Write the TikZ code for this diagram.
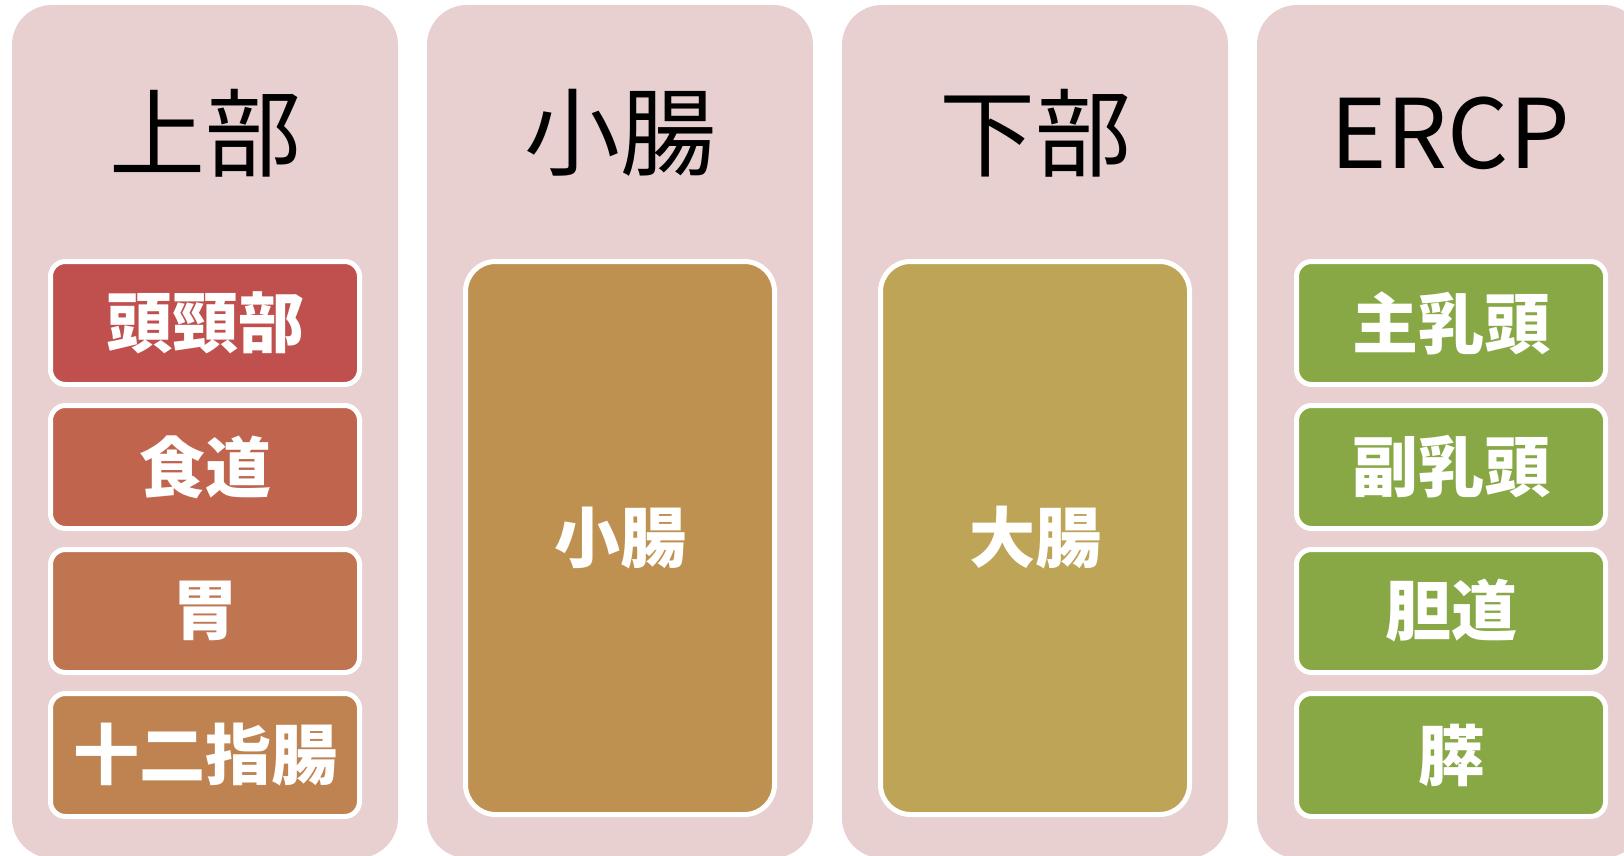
\documentclass[tikz,border=0pt]{standalone}
\usepackage{fontspec}
\newfontfamily\cjk{Noto Sans CJK JP}
\definecolor{colbg}{RGB}{232,208,209}
\definecolor{upc1}{RGB}{192,80,77}
\definecolor{upc2}{RGB}{192,100,78}
\definecolor{upc3}{RGB}{191,117,80}
\definecolor{upc4}{RGB}{191,131,81}
\definecolor{smallc}{RGB}{190,145,81}
\definecolor{largec}{RGB}{190,164,86}
\definecolor{ercpc}{RGB}{135,168,69}

\begin{document}
\begin{tikzpicture}[x=1pt,y=-1pt,
	column/.style={fill=colbg,rounded corners=40pt,minimum width=386pt,minimum height=853pt,inner sep=0pt},
	title/.style={font=\cjk\fontsize{96}{96}\selectfont,inner sep=0pt},
	organ/.style={draw=white,line width=5pt,rounded corners=15pt,text=white,inner sep=0pt,
		font=\cjk\bfseries\fontsize{66}{66}\selectfont,minimum width=309pt,minimum height=123pt},
	tall/.style={organ,rounded corners=30pt,minimum height=553pt}]
	\useasboundingbox (0,0) rectangle (1624,856);
	\clip (0,0) rectangle (1624,856);
	\foreach \i/\t in {1/上部,2/小腸,3/下部,4/ERCP} {
		\node[column] (col\i) at ({205+415*(\i-1)},431.5) {};
		\node[title] (head\i) at ({205+415*(\i-1)},133) {\t};
	}
	\foreach \j/\t in {1/頭頸部,2/食道,3/胃,4/十二指腸}
		\node[organ,fill=upc\j] (up\j) at (205,{323+144*(\j-1)}) {\t};
	\node[tall,fill=smallc] (small) at (620,538) {小腸};
	\node[tall,fill=largec] (large) at (1035,538) {大腸};
	\foreach \j/\t in {1/主乳頭,2/副乳頭,3/胆道,4/膵}
		\node[organ,fill=ercpc] (ercp\j) at (1451,{323+144*(\j-1)}) {\t};
\end{tikzpicture}
\end{document}
